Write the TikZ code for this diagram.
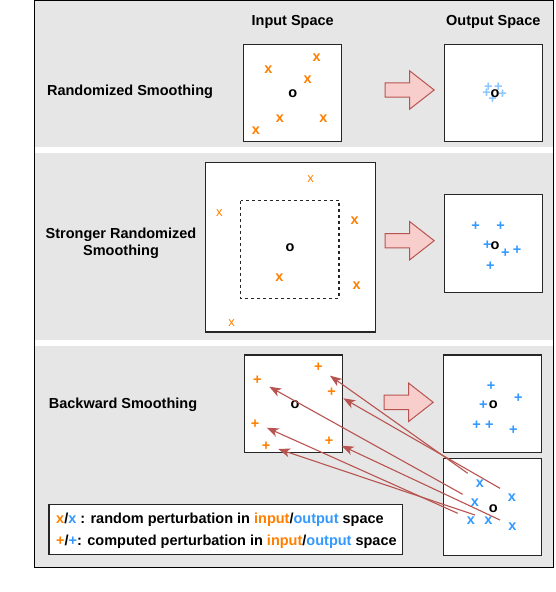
\documentclass[tikz,border=0pt]{standalone}
\usepackage{fontspec}
\setmainfont{Liberation Sans}
\usetikzlibrary{arrows.meta, shapes.arrows}

\definecolor{panelgray}{HTML}{E6E6E6}
\definecolor{inorange}{HTML}{FF8000}
\definecolor{outblue}{HTML}{3399FF}
\definecolor{lightblue}{HTML}{8CC6FF}
\definecolor{arrowpink}{HTML}{F8CECC}
\definecolor{arrowred}{HTML}{B85450}

\begin{document}
\begin{tikzpicture}[
            x=1pt, y=-1pt,
            font=\bfseries\fontsize{14.5}{17}\selectfont,
            panel/.style={fill=panelgray, draw=none},
            spacebox/.style={fill=white, draw=black!85, line width=1.2pt, minimum width=98pt, minimum height=97.5pt, inner sep=0},
            label/.style={draw=none, text=black, inner sep=0},
            inmark/.style={text=inorange, inner sep=0},
            outmark/.style={text=outblue, inner sep=0},
            faintmark/.style={inner sep=0, font=\mdseries\fontsize{13}{13}\selectfont},
            cleanpt/.style={text=black, inner sep=0},
            shiftarrow/.style={single arrow, fill=arrowpink, draw=arrowred, line width=1pt, minimum height=49pt, single arrow head extend=12pt, single arrow tip angle=76, inner xsep=0pt, inner ysep=6.7pt, anchor=tip},
            backline/.style={draw=arrowred, line width=1.1pt, -{Stealth[length=12pt, width=9pt, inset=3.5pt]}},
        ]
            \useasboundingbox (0, 0) rectangle (556, 592);
            %% frame and panels
            \draw[fill=white, draw=black, line width=0.8pt] (34.5, 0.5) rectangle (553.5, 567.5);
            \fill[panel] (35, 1) rectangle (553, 147);
            \fill[panel] (35, 153) rectangle (553, 340);
            \fill[panel] (35, 345.5) rectangle (553, 567);
            %% titles
            \node[label, anchor=base] at (292.7, 25.2) (input-title) {Input Space};
            \node[label, anchor=base] at (493.3, 25.2) (output-title) {Output Space};
            \node[label, anchor=base] at (130, 95.2) (rs-title) {Randomized Smoothing};
            \node[label, align=center] at (121, 243) (srs-title) {Stronger Randomized\\Smoothing};
            \node[label, anchor=base] at (123, 408.5) (bs-title) {Backward Smoothing};

            %% randomized smoothing
            \node[spacebox] at (292.2, 93) (in1) {};
            \node[spacebox] at (493.3, 93) (out1) {};
            \node[inmark] at (316.7, 57.7) (in1-a) {x};
            \node[inmark] at (268.3, 70) (in1-b) {x};
            \node[inmark] at (307.7, 80) (in1-c) {x};
            \node[inmark] at (280, 118.7) (in1-d) {x};
            \node[inmark] at (323.3, 118.7) (in1-e) {x};
            \node[inmark] at (256, 131) (in1-f) {x};
            \node[cleanpt] at (292.7, 94) (in1-o) {o};
            \node[outmark, text=lightblue] at (488.3, 87.7) (out1-a) {+};
            \node[outmark, text=lightblue] at (498.3, 87.7) (out1-b) {+};
            \node[outmark, text=lightblue] at (486.7, 93.3) (out1-c) {+};
            \node[outmark, text=lightblue] at (502.7, 93.8) (out1-d) {+};
            \node[outmark, text=lightblue] at (492.7, 99.3) (out1-e) {+};
            \node[cleanpt] at (495, 94) (out1-o) {o};
            \node[shiftarrow] at (435, 90) (shift1) {};

            %% stronger randomized smoothing
            \node[spacebox, minimum width=169.6pt, minimum height=169.7pt] at (290.5, 247.2) (in2) {};
            \draw[dashed, line width=1.1pt, draw=black!85] (240.7, 200.7) rectangle (339, 298.3);
            \node[spacebox] at (493.3, 243.5) (out2) {};
            \node[faintmark, text=inorange] at (310.7, 179) (in2-a) {x};
            \node[faintmark, text=inorange] at (219.3, 212.7) (in2-b) {x};
            \node[inmark] at (354.7, 220.7) (in2-c) {x};
            \node[inmark] at (279.3, 277.7) (in2-d) {x};
            \node[inmark] at (356.7, 285.7) (in2-e) {x};
            \node[faintmark, text=inorange] at (231.7, 323.3) (in2-f) {x};
            \node[cleanpt] at (290, 248) (in2-o) {o};
            \node[cleanpt] at (495, 245.7) (out2-o) {o};
            \node[outmark] at (475.7, 226.7) (out2-a) {+};
            \node[outmark] at (500.7, 226.7) (out2-b) {+};
            \node[outmark] at (487.3, 245.7) (out2-c) {+};
            \node[outmark] at (505.3, 253.3) (out2-d) {+};
            \node[outmark] at (517, 250) (out2-e) {+};
            \node[outmark] at (490.3, 266) (out2-f) {+};
            \node[shiftarrow] at (435, 240.7) (shift2) {};

            %% backward smoothing
            \node[spacebox] at (293.3, 403.7) (in3) {};
            \node[spacebox] at (492.3, 403.7) (out3) {};
            \node[spacebox] at (492.3, 507) (out4) {};
            \node[inmark] at (318.3, 367.3) (in3-a) {+};
            \node[inmark] at (257.3, 380.7) (in3-b) {+};
            \node[inmark] at (331.7, 392.7) (in3-c) {+};
            \node[inmark] at (255, 424) (in3-d) {+};
            \node[inmark] at (329, 441.7) (in3-e) {+};
            \node[inmark] at (266, 446.7) (in3-f) {+};
            \node[cleanpt] at (295, 405) (in3-o) {o};
            \node[outmark] at (491, 386) (out3-a) {+};
            \node[outmark] at (483.3, 405) (out3-b) {+};
            \node[outmark] at (518.3, 398.3) (out3-c) {+};
            \node[outmark] at (476.7, 425) (out3-d) {+};
            \node[outmark] at (489.3, 425.3) (out3-e) {+};
            \node[outmark] at (513.3, 430) (out3-f) {+};
            \node[cleanpt] at (493.3, 405) (out3-o) {o};
            \node[outmark] at (480, 484) (out4-a) {x};
            \node[outmark] at (512, 497.3) (out4-b) {x};
            \node[outmark] at (475, 502.7) (out4-c) {x};
            \node[outmark] at (471, 520.7) (out4-d) {x};
            \node[outmark] at (488.3, 520.7) (out4-e) {x};
            \node[outmark] at (512.3, 526.7) (out4-f) {x};
            \node[cleanpt] at (493.3, 509) (out4-o) {o};
            \node[shiftarrow] at (434, 402.3) (shift3) {};
            %% pull back
            \coordinate (from-a) at (467.7, 473.3);
            \coordinate (from-b) at (500, 488.3);
            \coordinate (from-c) at (462.7, 494.3);
            \coordinate (from-d) at (457.7, 513.3);
            \coordinate (from-e) at (475, 515);
            \coordinate (from-f) at (500, 520);
            \coordinate (to-a) at (330, 375.7);
            \coordinate (to-b) at (269.3, 386.7);
            \coordinate (to-c) at (343.3, 398.3);
            \coordinate (to-d) at (266.7, 427.7);
            \coordinate (to-e) at (341.7, 445.7);
            \coordinate (to-f) at (278.3, 449);
            \draw[backline] (from-a) -- (to-a);
            \draw[backline] (from-b) -- (to-c);
            \draw[backline] (from-c) -- (to-b);
            \draw[backline] (from-d) -- (to-d);
            \draw[backline] (from-e) -- (to-f);
            \draw[backline] (from-f) -- (to-e);

            %% legend
            \node[fill=white, draw=black!85, line width=1.2pt, minimum width=353.7pt, minimum height=50pt, inner sep=0] at (225.9, 529.3) (legend) {};
            \node[label, anchor=base west] at (56, 523.3) (legend-random) {\textcolor{inorange}{x}/\textcolor{outblue}{x} : random perturbation in \textcolor{inorange}{input}/\textcolor{outblue}{output} space};
            \node[label, anchor=base west] at (56, 545.3) (legend-computed) {\textcolor{inorange}{+}/\textcolor{outblue}{+}: computed perturbation in \textcolor{inorange}{input}/\textcolor{outblue}{output} space};

        \end{tikzpicture}
\end{document}
